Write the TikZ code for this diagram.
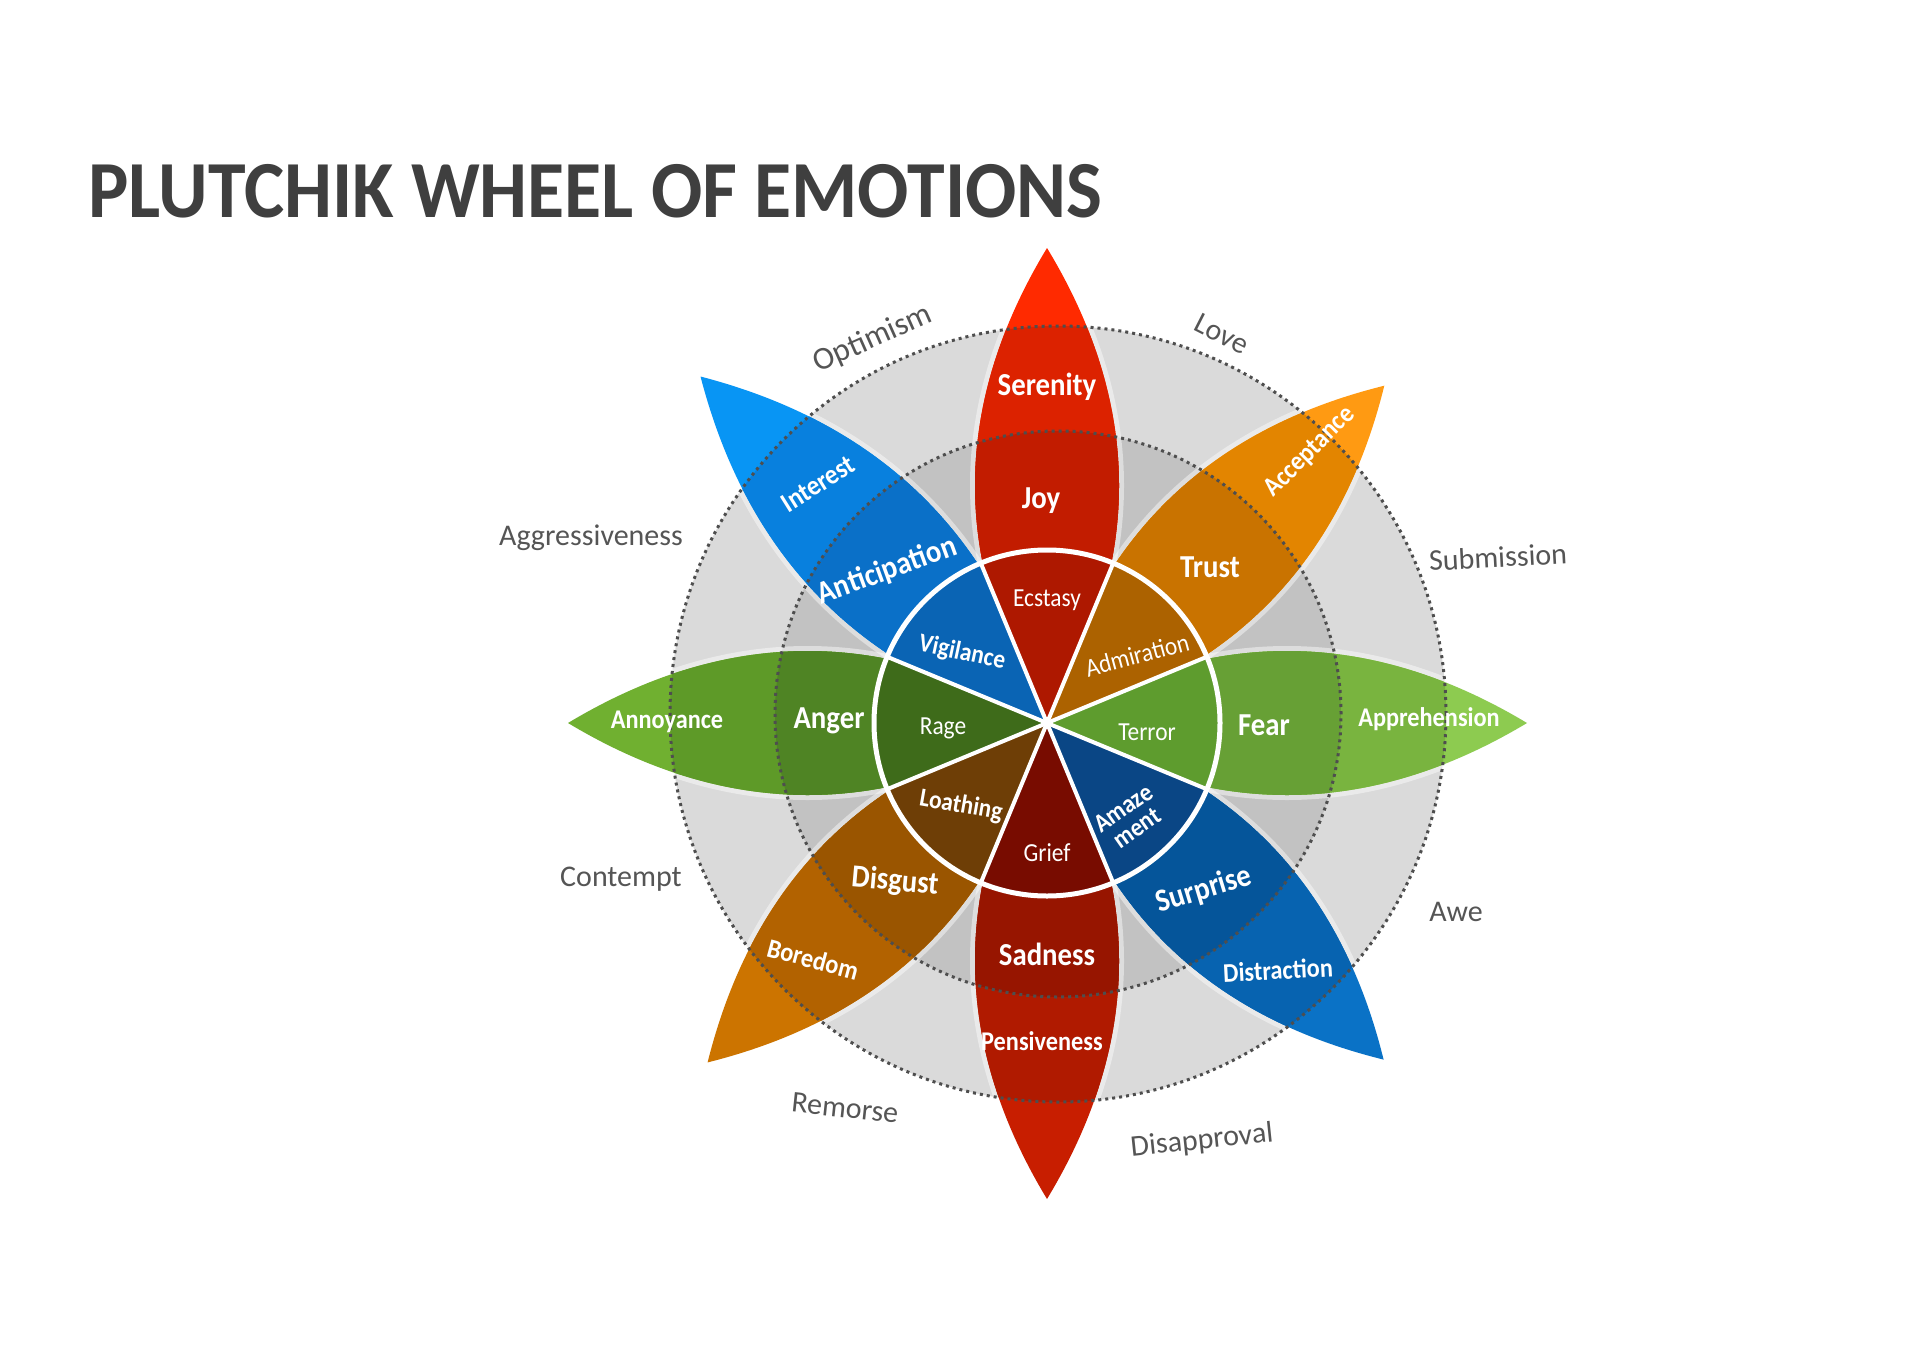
\documentclass[tikz,border=0pt]{standalone}
\usepackage{fontspec}
\setmainfont{Carlito}
\usepackage{graphicx}
\definecolor{ringA}{HTML}{DADADA}
\definecolor{ringB}{HTML}{C2C2C2}
\definecolor{dcol}{HTML}{4E4E4E}
\definecolor{ttlcol}{HTML}{3F3F3F}
\definecolor{outcol}{HTML}{555555}
% top red
\definecolor{rT}{HTML}{FF2A00}\definecolor{rTa}{HTML}{DC2200}\definecolor{rTb}{HTML}{C21C00}\definecolor{rTw}{HTML}{AE1800}
% upper right orange
\definecolor{oT}{HTML}{FF9A12}\definecolor{oTa}{HTML}{E38500}\definecolor{oTb}{HTML}{C97300}\definecolor{oTw}{HTML}{AC6200}
% right green
\definecolor{gT}{HTML}{8DCB50}\definecolor{gTa}{HTML}{79B43F}\definecolor{gTb}{HTML}{67A035}\definecolor{gTw}{HTML}{5E9C2E}
% lower right blue
\definecolor{bT}{HTML}{0A72C6}\definecolor{bTa}{HTML}{0763B0}\definecolor{bTb}{HTML}{05559A}\definecolor{bTw}{HTML}{0A4685}
% bottom red
\definecolor{rB}{HTML}{C81E00}\definecolor{rBa}{HTML}{B01A00}\definecolor{rBb}{HTML}{971500}\definecolor{rBw}{HTML}{780C00}
% lower left orange
\definecolor{oB}{HTML}{CC7400}\definecolor{oBa}{HTML}{B26200}\definecolor{oBb}{HTML}{9A5500}\definecolor{oBw}{HTML}{6E3E06}
% left green
\definecolor{gL}{HTML}{70B030}\definecolor{gLa}{HTML}{5E9A28}\definecolor{gLb}{HTML}{4F8424}\definecolor{gLw}{HTML}{3E6B1A}
% upper left blue
\definecolor{bL}{HTML}{0895F4}\definecolor{bLa}{HTML}{0880DE}\definecolor{bLb}{HTML}{0A70C8}\definecolor{bLw}{HTML}{0A64B4}
\newcommand\cnd[1]{\scalebox{0.9}[1]{#1}}
\tikzset{
  lens/.style={insert path={(0,0) .. controls ({\L/3},96) and ({2*\L/3},96) .. (\L,0) .. controls ({2*\L/3},-96) and ({\L/3},-96) .. (0,0) -- cycle}},
  ttl/.style={anchor=base west, text=ttlcol, inner sep=0pt, font=\fontsize{81}{81}\selectfont\bfseries},
  outerlbl/.style={text=outcol, inner sep=0pt, font=\fontsize{30}{30}\selectfont},
  biglbl/.style={text=white, inner sep=0pt, font=\fontsize{32}{32}\selectfont\bfseries},
  midlbl/.style={text=white, inner sep=0pt, font=\fontsize{27}{27}\selectfont\bfseries},
  innlbl/.style={text=white, inner sep=0pt, font=\fontsize{26}{27}\selectfont},
  halo/.style={draw=white, line width=10pt, draw opacity=0.45},
  dashring/.style={draw=dcol, line width=3pt, dash pattern=on 3pt off 4pt},
  spoke/.style={draw=white, line width=4pt}
}
\begin{document}
\begin{tikzpicture}[x=1pt,y=1pt]
\useasboundingbox (0,0) rectangle (1920,-1357);
\fill[white] (0,0) rectangle (1920,-1357);
\coordinate (wc) at (1047,-723);
\coordinate (cc) at (1058,-714);
% grey rings
\fill[ringA] (cc) circle[radius=388];
\fill[ringB] (cc) circle[radius=283];
% halos
\foreach \a/\L in {90/475,45/477,0/480,-45/476,-90/476,-135/480,180/479,135/490}{
  \begin{scope}[shift={(wc)}, rotate=\a]
    \path[halo, lens];
  \end{scope}
}
% petals
\foreach \a/\L/\cA/\cB/\cC in {90/475/rT/rTa/rTb, 45/477/oT/oTa/oTb, 0/480/gT/gTa/gTb, -45/476/bT/bTa/bTb, -90/476/rB/rBa/rBb, -135/480/oB/oBa/oBb, 180/479/gL/gLa/gLb, 135/490/bL/bLa/bLb}{
  \begin{scope}[shift={(wc)}, rotate=\a]
    \path[fill=\cA, lens];
    \begin{scope}
      \clip (cc) circle[radius=388];
      \path[fill=\cB, lens];
      \clip (cc) circle[radius=283];
      \path[fill=\cC, lens];
    \end{scope}
  \end{scope}
}
% inner wedges
\foreach \a/\c in {90/rTw,45/oTw,0/gTw,-45/bTw,-90/rBw,-135/oBw,180/gLw,135/bLw}{
  \fill[\c] (wc) -- ++({\a-22.5}:173) arc[start angle={\a-22.5}, end angle={\a+22.5}, radius=173] -- cycle;
}
\foreach \a in {22.5,67.5,...,337.5}{
  \draw[spoke] (wc) -- ++(\a:173);
}
\draw[white, line width=5pt] (wc) circle[radius=173];
% dashed rings
\draw[dashring] (cc) circle[radius=388];
\draw[dashring] (cc) circle[radius=283];
% title
\node[ttl] (title) at (88,-217) {\scalebox{0.937}[1]{PLUTCHIK WHEEL OF EMOTIONS}};
% outer labels
\node[outerlbl, rotate=24, font=\fontsize{32}{32}\selectfont] (optimism) at (873,-339) {Optimism};
\node[outerlbl, rotate=-27] (love) at (1222,-334) {Love};
\node[outerlbl] (aggr) at (591,-538) {Aggressiveness};
\node[outerlbl, rotate=3] (subm) at (1498,-557) {Submission};
\node[outerlbl] (contempt) at (621,-879) {Contempt};
\node[outerlbl] (awe) at (1456,-912) {Awe};
\node[outerlbl, rotate=-6] (remorse) at (845,-1108) {Remorse};
\node[outerlbl, rotate=6] (disappr) at (1202,-1141) {Disapproval};
% petal labels
\node[biglbl] (serenity) at (1047,-387) {\cnd{Serenity}};
\node[biglbl] (joy) at (1041,-501) {\cnd{Joy}};
\node[innlbl] (ecstasy) at (1047,-600) {\cnd{Ecstasy}};
\node[midlbl, rotate=32, font=\fontsize{28}{28}\selectfont\bfseries] (interest) at (818,-484) {\cnd{Interest}};
\node[biglbl, rotate=20] (anticip) at (887,-571) {\cnd{Anticipation}};
\node[innlbl, rotate=-12, font=\fontsize{26}{27}\selectfont\bfseries] (vigil) at (962,-653) {\cnd{Vigilance}};
\node[biglbl] (trust) at (1210,-567) {\cnd{Trust}};
\node[midlbl, rotate=45] (accept) at (1310,-452) {\cnd{Acceptance}};
\node[innlbl, rotate=15] (admir) at (1137,-655) {\cnd{Admiration}};
\node[midlbl] (annoy) at (667,-722) {\cnd{Annoyance}};
\node[biglbl] (anger) at (829,-721) {\cnd{Anger}};
\node[innlbl] (rage) at (943,-728) {\cnd{Rage}};
\node[innlbl] (terror) at (1147,-732) {\cnd{Terror}};
\node[biglbl] (fear) at (1264,-725) {\cnd{Fear}};
\node[midlbl] (appreh) at (1429,-719) {\cnd{Apprehension}};
\node[innlbl, rotate=-10, font=\fontsize{26}{27}\selectfont\bfseries] (loath) at (961,-806) {\cnd{Loathing}};
\node[innlbl] (grief) at (1047,-853) {\cnd{Grief}};
\node[innlbl, rotate=35, align=center, font=\fontsize{26}{24}\selectfont\bfseries] (amaze) at (1130,-818) {\cnd{Amaze}\\\cnd{ment}};
\node[biglbl, rotate=-5] (disgust) at (895,-882) {\cnd{Disgust}};
\node[biglbl, rotate=17] (surprise) at (1204,-890) {\cnd{Surprise}};
\node[midlbl, rotate=-15] (boredom) at (813,-959) {\cnd{Boredom}};
\node[biglbl] (sadness) at (1047,-954) {\cnd{Sadness}};
\node[midlbl, rotate=3] (distract) at (1278,-970) {\cnd{Distraction}};
\node[midlbl] (pensive) at (1042,-1041) {\cnd{Pensiveness}};
\end{tikzpicture}
\end{document}
